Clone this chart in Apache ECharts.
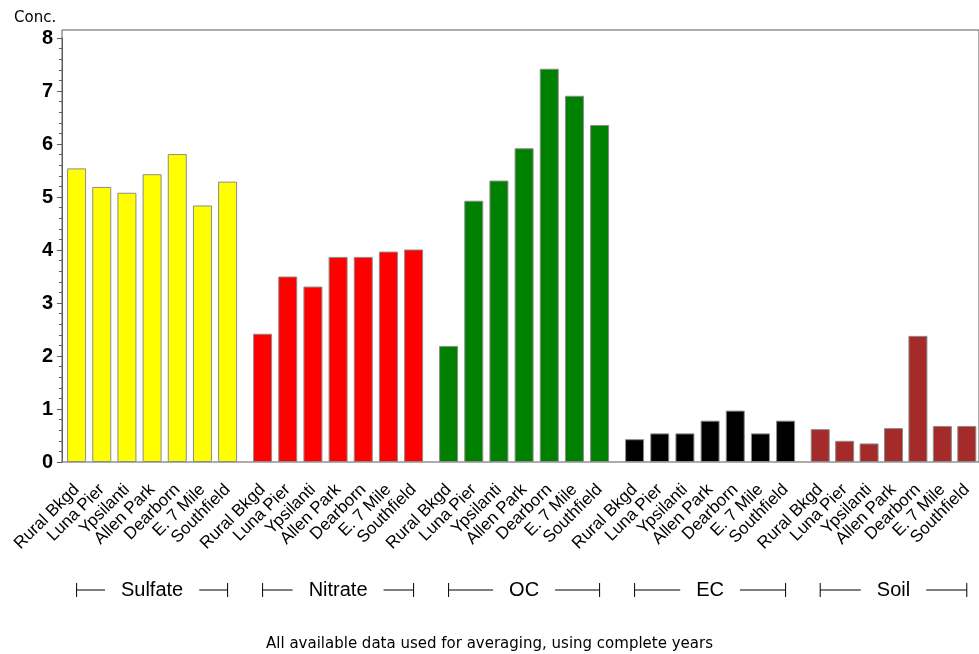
<!DOCTYPE html>
<html>
<head>
<meta charset="utf-8">
<script src="https://cdn.jsdelivr.net/npm/echarts@6/dist/echarts.min.js"></script>
<style>
  html, body { margin: 0; padding: 0; background: #fff; }
  #chart { width: 979px; height: 654px; }
</style>
</head>
<body>
<div id="chart"></div>
<script>
// sites are repeated inside every species group
const sites = ['Rural Bkgd', 'Luna Pier', 'Ypsilanti', 'Allen Park', 'Dearborn', 'E. 7 Mile', 'Southfield'];
const groups = ['Sulfate', 'Nitrate', 'OC', 'EC', 'Soil'];
const groupColors = ['#ffff00', '#ff0000', '#008000', '#000000', '#a52a2a'];

const sulfate = [5.54, 5.19, 5.08, 5.43, 5.81, 4.84, 5.29];
const nitrate = [2.42, 3.50, 3.31, 3.87, 3.87, 3.97, 4.01];
const oc = [2.19, 4.93, 5.31, 5.92, 7.42, 6.91, 6.36];
const ec = [0.43, 0.54, 0.54, 0.78, 0.97, 0.54, 0.78];
const soil = [0.62, 0.40, 0.35, 0.64, 2.38, 0.68, 0.68];
const groupValues = [sulfate, nitrate, oc, ec, soil];

const yTicks = [0, 1, 2, 3, 4, 5, 6, 7, 8];

const font = '"Liberation Sans", Arial, sans-serif';
const wideFont = '"DejaVu Sans", "Liberation Sans", sans-serif';
const axisGray = '#5a5a5a';

// layout
const plotLeft = 62;
const plotTop = 38;
const frameTop = 30;
const plotBottom = 192;
const groupStart = 64;
const groupStep = 186;
const catWidth = 25.17;

const grids = [
  // frame box
  { left: plotLeft, right: -5, top: frameTop, bottom: plotBottom, show: true, borderColor: axisGray, borderWidth: 1 },
  // value axis
  { left: plotLeft, right: -5, top: plotTop, bottom: plotBottom }
];
const xAxes = [
  { gridIndex: 0, type: 'value', show: false },
  { gridIndex: 1, type: 'value', show: false }
];
const yAxes = [
  { gridIndex: 0, type: 'value', show: false },
  {
    gridIndex: 1,
    type: 'value',
    min: yTicks[0],
    max: yTicks[yTicks.length - 1],
    interval: 1,
    axisLine: { show: true, lineStyle: { color: axisGray, width: 1 } },
    axisTick: { show: true, length: 5, lineStyle: { color: axisGray } },
    minorTick: { show: true, splitNumber: 5, length: 3, lineStyle: { color: axisGray } },
    splitLine: { show: false },
    axisLabel: { fontFamily: font, fontSize: 20, fontWeight: 'bold', color: '#000', margin: 9 }
  }
];
const series = [];

groups.forEach((g, i) => {
  grids.push({
    left: groupStart + i * groupStep,
    width: catWidth * sites.length,
    top: plotTop,
    bottom: plotBottom
  });
  xAxes.push({
    gridIndex: i + 2,
    type: 'category',
    data: sites,
    axisLine: { show: false },
    axisTick: { show: false },
    axisLabel: {
      interval: 0,
      rotate: 45,
      margin: 25,
      fontFamily: font,
      fontSize: 17,
      color: '#000'
    }
  });
  yAxes.push({
    gridIndex: i + 2,
    type: 'value',
    min: yTicks[0],
    max: yTicks[yTicks.length - 1],
    show: false
  });
  series.push({
    name: g,
    type: 'bar',
    xAxisIndex: i + 2,
    yAxisIndex: i + 2,
    data: groupValues[i],
    barWidth: 19,
    itemStyle: { color: groupColors[i], borderColor: '#8c8c8c', borderWidth: 1 },
    silent: true
  });
});

const chart = echarts.init(document.getElementById('chart'), null, { renderer: 'canvas' });

chart.setOption({
  backgroundColor: '#ffffff',
  animation: false,
  title: [
    { text: 'Conc.', left: 9, top: 6, textStyle: { fontFamily: wideFont, fontSize: 15, fontWeight: 'normal', color: '#000' } },
    {
      text: 'All available data used for averaging, using complete years',
      left: 'center',
      top: 632,
      textStyle: { fontFamily: wideFont, fontSize: 15, fontWeight: 'normal', color: '#000' }
    }
  ],
  grid: grids,
  xAxis: xAxes,
  yAxis: yAxes,
  series: series
});

// group brackets under the site labels, spanning first to last bar of each group
const bracketY = 590;
const brackets = [];
groups.forEach((g, i) => {
  const x0 = chart.convertToPixel({ xAxisIndex: i + 2 }, 0);
  const x1 = chart.convertToPixel({ xAxisIndex: i + 2 }, sites.length - 1);
  const lineStyle = { stroke: '#000', lineWidth: 1 };
  brackets.push(
    { type: 'line', shape: { x1: x0, y1: bracketY, x2: x1, y2: bracketY }, style: lineStyle, z: 10 },
    { type: 'line', shape: { x1: x0, y1: bracketY - 7, x2: x0, y2: bracketY + 7 }, style: lineStyle, z: 10 },
    { type: 'line', shape: { x1: x1, y1: bracketY - 7, x2: x1, y2: bracketY + 7 }, style: lineStyle, z: 10 },
    {
      type: 'text',
      z: 11,
      x: (x0 + x1) / 2,
      y: bracketY,
      style: {
        text: g,
        align: 'center',
        verticalAlign: 'middle',
        fontFamily: font,
        fontSize: 20,
        fill: '#000',
        backgroundColor: '#fff',
        padding: [2, 16]
      }
    }
  );
});
chart.setOption({ graphic: brackets });
</script>
</body>
</html>
